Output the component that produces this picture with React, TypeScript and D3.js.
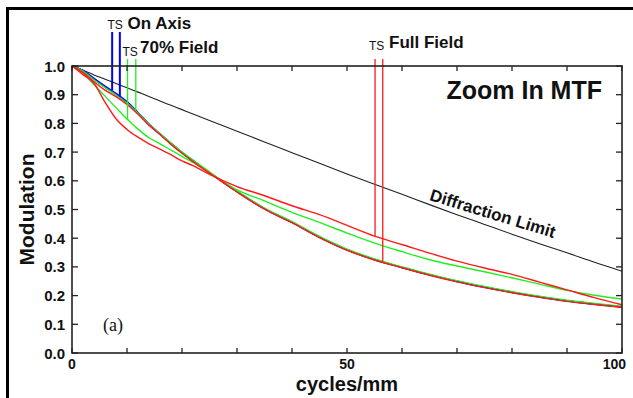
import React from "react";
import * as d3 from "d3";

// ---- data ----
const freq = [0, 2, 4, 6, 8, 10, 12, 14, 16, 18, 20, 22, 25, 30, 35, 40, 45, 50, 55, 60, 65, 70, 75, 80, 85, 90, 95, 100];

const diffraction = [1.0, 0.985, 0.969, 0.954, 0.939, 0.924, 0.909, 0.894, 0.878, 0.863, 0.848, 0.833, 0.810, 0.773, 0.735, 0.698, 0.661, 0.624, 0.588, 0.553, 0.517, 0.482, 0.448, 0.414, 0.381, 0.349, 0.316, 0.285];

const onAxisT = [1.0, 0.985, 0.957, 0.930, 0.905, 0.876, 0.838, 0.798, 0.764, 0.731, 0.699, 0.671, 0.629, 0.563, 0.503, 0.455, 0.404, 0.360, 0.326, 0.298, 0.273, 0.250, 0.230, 0.212, 0.196, 0.182, 0.171, 0.161];
const onAxisS = [1.0, 0.983, 0.953, 0.926, 0.900, 0.872, 0.835, 0.795, 0.762, 0.729, 0.697, 0.669, 0.628, 0.562, 0.502, 0.455, 0.403, 0.359, 0.325, 0.298, 0.272, 0.249, 0.229, 0.211, 0.195, 0.181, 0.170, 0.160];
const field70S = [1.0, 0.982, 0.952, 0.925, 0.899, 0.871, 0.836, 0.797, 0.764, 0.732, 0.700, 0.672, 0.631, 0.565, 0.505, 0.458, 0.406, 0.362, 0.328, 0.300, 0.275, 0.252, 0.232, 0.214, 0.198, 0.184, 0.173, 0.163];
const field70T = [1.0, 0.975, 0.935, 0.895, 0.855, 0.815, 0.780, 0.750, 0.729, 0.707, 0.685, 0.664, 0.629, 0.568, 0.530, 0.490, 0.455, 0.418, 0.383, 0.353, 0.325, 0.303, 0.283, 0.262, 0.240, 0.218, 0.201, 0.188];
const fullS = [1.0, 0.978, 0.945, 0.916, 0.893, 0.866, 0.832, 0.794, 0.761, 0.727, 0.696, 0.667, 0.627, 0.561, 0.501, 0.454, 0.402, 0.358, 0.324, 0.297, 0.271, 0.248, 0.228, 0.210, 0.194, 0.180, 0.169, 0.159];
const fullT = [1.0, 0.970, 0.940, 0.874, 0.816, 0.779, 0.752, 0.729, 0.710, 0.691, 0.669, 0.653, 0.622, 0.580, 0.548, 0.513, 0.482, 0.445, 0.407, 0.378, 0.348, 0.320, 0.296, 0.274, 0.247, 0.220, 0.193, 0.168];

const markerFreq = [7.3, 8.7, 10.1, 11.6, 55.1, 56.5];
const markerEnd = [0.916, 0.893, 0.812, 0.847, 0.405, 0.318];
const markerGroup = ["on", "on", "f70", "f70", "full", "full"];

const yTicks = [0, 0.1, 0.2, 0.3, 0.4, 0.5, 0.6, 0.7, 0.8, 0.9, 1.0];
const xTicks = [0, 10, 20, 30, 40, 50, 60, 70, 80, 90, 100];
const xTickLabels = [0, 50, 100];

// ---- layout ----
const W = 633, H = 398;
const X0 = 72, X1 = 622, Y0 = 353, Y1 = 66;
const BLUE = "#0000ff", GREEN = "#22ee22", RED = "#ff1a1a";
const colorOf: Record<string, string> = { on: BLUE, f70: GREEN, full: RED };
const markerTopPx: Record<string, number> = { on: 32, f70: 59, full: 59 };
const SANS = "'Liberation Sans', Arial, Helvetica, sans-serif";

export default function App() {
  const x = d3.scaleLinear().domain([0, 100]).range([X0, X1]);
  const y = d3.scaleLinear().domain([0, 1]).range([Y0, Y1]);
  const line = d3
    .line<number>()
    .x((_, i) => x(freq[i]))
    .y((d) => y(d))
    .curve(d3.curveMonotoneX);

  const series = [
    { v: onAxisT, c: BLUE },
    { v: onAxisS, c: BLUE },
    { v: field70T, c: GREEN },
    { v: field70S, c: GREEN },
    { v: fullT, c: RED },
    { v: fullS, c: RED },
  ];

  return (
    <svg
      width={W}
      height={H}
      style={{ position: "absolute", left: 0, top: 0, background: "#fff" }}
      fontFamily={SANS}
    >
      <rect x={0} y={0} width={W} height={H} fill="#fff" />
      {/* outer border */}
      <line x1={6} x2={W} y1={8.5} y2={8.5} stroke="#000" strokeWidth={3} />
      <line x1={7.5} x2={7.5} y1={7} y2={H} stroke="#000" strokeWidth={3} />

      {/* diffraction limit */}
      <path d={line(diffraction) || ""} fill="none" stroke="#222" strokeWidth={1.1} />

      {/* MTF curves */}
      {series.map((s, i) => (
        <path key={i} d={line(s.v) || ""} fill="none" stroke={s.c} strokeWidth={1.4} />
      ))}

      {/* marker lines */}
      {markerFreq.map((f, i) => (
        <line
          key={i}
          x1={x(f)}
          x2={x(f)}
          y1={markerTopPx[markerGroup[i]]}
          y2={y(markerEnd[i])}
          stroke={colorOf[markerGroup[i]]}
          strokeWidth={markerGroup[i] === "on" ? 2 : 1.3}
        />
      ))}

      {/* frame */}
      <rect x={X0} y={Y1} width={X1 - X0} height={Y0 - Y1} fill="none" stroke="#222" strokeWidth={1.6} />

      {/* y ticks */}
      {yTicks.map((t) => (
        <g key={"y" + t}>
          <line x1={X0} x2={X0 + 6} y1={y(t)} y2={y(t)} stroke="#222" strokeWidth={1.3} />
          <line x1={X1} x2={X1 - 6} y1={y(t)} y2={y(t)} stroke="#222" strokeWidth={1.3} />
          <text x={X0 - 7} y={y(t) + 5.5} textAnchor="end" fontSize={15} fontWeight="bold" fill="#111">
            {t.toFixed(1)}
          </text>
        </g>
      ))}

      {/* x ticks */}
      {xTicks.map((t) => (
        <g key={"x" + t}>
          <line x1={x(t)} x2={x(t)} y1={Y0} y2={Y0 - 5} stroke="#222" strokeWidth={1.3} />
          <line x1={x(t)} x2={x(t)} y1={Y1} y2={Y1 + 5} stroke="#222" strokeWidth={1.3} />
        </g>
      ))}
      {xTickLabels.map((t) => (
        <text
          key={"xl" + t}
          x={t === 100 ? x(t) + 4 : x(t)}
          y={369}
          textAnchor={t === 100 ? "end" : "middle"}
          fontSize={14}
          fontWeight="bold"
          fill="#111"
        >
          {t}
        </text>
      ))}

      {/* axis titles */}
      <text x={x(50)} y={391} textAnchor="middle" fontSize={20} fontWeight="bold" fill="#111">
        cycles/mm
      </text>
      <text
        transform={`translate(34, ${(Y0 + Y1) / 2}) rotate(-90)`}
        textAnchor="middle"
        fontSize={21}
        fontWeight="bold"
        fill="#111"
      >
        Modulation
      </text>

      {/* legend labels */}
      <text x={107.5} y={29} fontSize={12} fill="#111">TS</text>
      <text x={127.5} y={29} fontSize={17} fontWeight="bold" fill="#111">On Axis</text>
      <text x={122.5} y={55.5} fontSize={12} fill="#111">TS</text>
      <text x={140} y={53} fontSize={17} fontWeight="bold" fill="#111">70% Field</text>
      <text x={369} y={50} fontSize={12} fill="#111">TS</text>
      <text x={389} y={48} fontSize={17} fontWeight="bold" fill="#111">Full Field</text>

      <text x={602} y={99} textAnchor="end" fontSize={25} fontWeight="bold" fill="#111">
        Zoom In MTF
      </text>
      <text
        transform="translate(491, 219) rotate(17)"
        textAnchor="middle"
        fontSize={17}
        fontWeight="bold"
        fill="#111"
      >
        Diffraction Limit
      </text>
      <text x={103} y={331} fontFamily="'Liberation Serif', 'Times New Roman', serif" fontSize={18} fill="#111">
        (a)
      </text>
    </svg>
  );
}
